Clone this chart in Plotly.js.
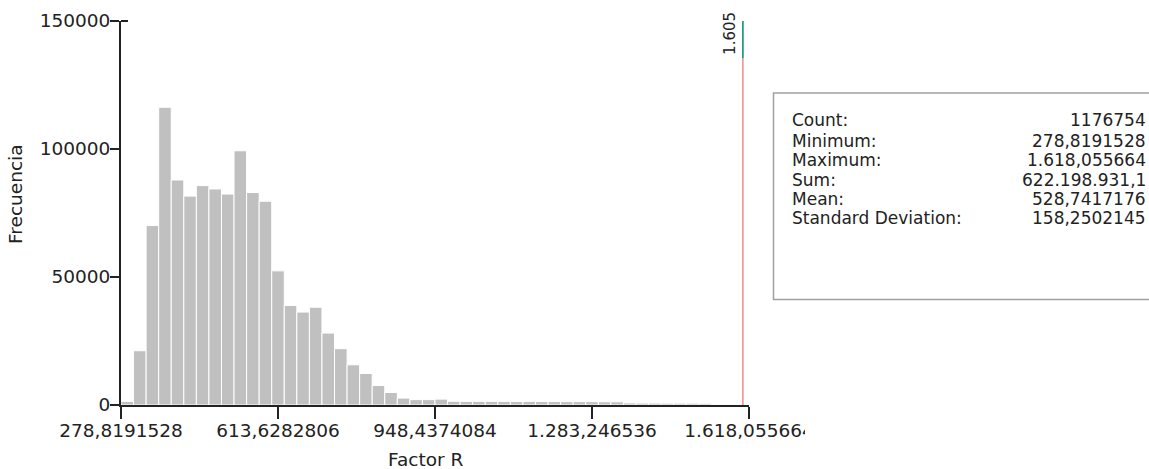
<!DOCTYPE html>
<html>
<head>
<meta charset="utf-8">
<script src="https://cdn.plot.ly/plotly-3.0.1.min.js"></script>
<style>html,body{margin:0;padding:0;background:#fff;}#chart{width:1149px;height:469px;}</style>
</head>
<body>
<div id="chart"></div>
<script>
// ---- data ----
const dataMin = 278.8191528;
const dataMax = 1618.055664;
const binCounts = [
  1400, 21200, 70100, 116300, 87900, 81600, 85700, 84400, 82400, 99300,
  83000, 79600, 52400, 38900, 36300, 38200, 28100, 22000, 15700, 12300,
  7600, 4900, 2700, 2100, 2100, 2300, 1450, 1400, 1400, 1400,
  1400, 1350, 1400, 1350, 1350, 1300, 1300, 1300, 1250, 1250,
  800, 750, 750, 700, 700, 700, 650, 100, 80, 60
];
const xTickVals = [278.8191528, 613.6282806, 948.4374084, 1283.246536, 1618.055664];
const xTickText = ["278,8191528", "613,6282806", "948,4374084", "1.283,246536", "1.618,055664"];
const yTickVals = [0, 50000, 100000, 150000];
const yTickText = ["0", "50000", "100000", "150000"];
const xTitle = "Factor R";
const yTitle = "Frecuencia";
const markerValue = 1605;
const markerLabel = "1.605";
const statLabels = ["Count:", "Minimum:", "Maximum:", "Sum:", "Mean:", "Standard Deviation:"];
const statValues = ["1176754", "278,8191528", "1.618,055664", "622.198.931,1", "528,7417176", "158,2502145"];

// ---- layout helpers ----
const W = 1149, H = 469;
const M = {l: 121, r: 400, t: 21, b: 64};
const PW = W - M.l - M.r, PH = H - M.t - M.b;
const X = px => (px - M.l) / PW;
const Y = py => (H - M.b - py) / PH;

const nBins = binCounts.length;
const binW = (dataMax - dataMin) / nBins;
const centers = binCounts.map((_, i) => dataMin + (i + 0.5) * binW);

const FONT = "DejaVu Sans, Verdana, sans-serif";
const TXT = "#222222";

const traces = [{
  type: "bar",
  x: centers,
  y: binCounts,
  width: binW,
  marker: {color: "#c0c0c0", line: {color: "#ffffff", width: 1}},
  hoverinfo: "x+y"
}];

const shapes = [
  // marker line (red lower part, teal top part)
  {type: "line", xref: "x", yref: "y", x0: markerValue, x1: markerValue, y0: 0, y1: 135500,
   xshift: 0, line: {color: "#f08a8a", width: 1.5}},
  {type: "line", xref: "x", yref: "y", x0: markerValue, x1: markerValue, y0: 135500, y1: 150000,
   line: {color: "#2a9a8a", width: 1.8}},
  // cap at top of y axis
  {type: "line", xref: "paper", yref: "paper", x0: X(121), x1: X(128), y0: 1, y1: 1,
   line: {color: TXT, width: 2}},
  // clip of the last tick label beyond the chart widget
  {type: "rect", xref: "paper", yref: "paper", layer: "above",
   x0: X(805), x1: X(1170), y0: Y(475), y1: Y(408),
   fillcolor: "#ffffff", line: {width: 0}},
  // stats box
  {type: "rect", xref: "paper", yref: "paper", layer: "above",
   x0: X(773.5), x1: X(1175), y0: Y(299.5), y1: Y(93),
   fillcolor: "#ffffff", line: {color: "#a0a0a0", width: 1.5}}
];

const rowY = [119, 139.5, 159, 178.5, 198, 217];
const annotations = [];
statLabels.forEach((lab, i) => {
  annotations.push({xref: "paper", yref: "paper", x: X(790), y: Y(rowY[i] + 1), xanchor: "left", yanchor: "middle",
    text: lab, showarrow: false, font: {family: FONT, size: 17, color: TXT}});
  annotations.push({xref: "paper", yref: "paper", x: X(1148), y: Y(rowY[i] + 1), xanchor: "right", yanchor: "middle",
    text: statValues[i], showarrow: false, font: {family: FONT, size: 17, color: TXT}});
});
annotations.push({xref: "x", yref: "paper", x: markerValue, y: Y(33), xanchor: "right", yanchor: "middle",
  xshift: -2, textangle: -90, text: markerLabel, showarrow: false,
  font: {family: FONT, size: 15, color: TXT}});
// axis titles (placed where the reference has them)
annotations.push({xref: "paper", yref: "paper", x: X(425.5), y: Y(459), xanchor: "center", yanchor: "middle",
  text: xTitle, showarrow: false, font: {family: FONT, size: 18.5, color: TXT}});
annotations.push({xref: "paper", yref: "paper", x: X(15), y: Y(194), xanchor: "center", yanchor: "middle",
  textangle: -90, text: yTitle, showarrow: false, font: {family: FONT, size: 18.5, color: TXT}});

const layout = {
  width: W, height: H,
  margin: M,
  paper_bgcolor: "#ffffff", plot_bgcolor: "#ffffff",
  showlegend: false,
  bargap: 0,
  font: {family: FONT, color: TXT},
  xaxis: {
    range: [dataMin, dataMax], autorange: false,
    showgrid: false, zeroline: false,
    showline: true, linecolor: TXT, linewidth: 2,
    ticks: "outside", ticklen: 12, tickwidth: 2, tickcolor: TXT,
    tickvals: xTickVals, ticktext: xTickText, ticklabelstandoff: -4,
    tickfont: {family: FONT, size: 18.5, color: TXT}
  },
  yaxis: {
    range: [0, 150000], autorange: false,
    showgrid: false, zeroline: false,
    showline: true, linecolor: TXT, linewidth: 2,
    ticks: "outside", ticklen: 9, tickwidth: 2, tickcolor: TXT,
    tickvals: yTickVals, ticktext: yTickText, ticklabelstandoff: -4,
    tickfont: {family: FONT, size: 18.5, color: TXT}
  },
  shapes: shapes,
  annotations: annotations
};

Plotly.newPlot("chart", traces, layout, {displayModeBar: false, staticPlot: true});
</script>
</body>
</html>
